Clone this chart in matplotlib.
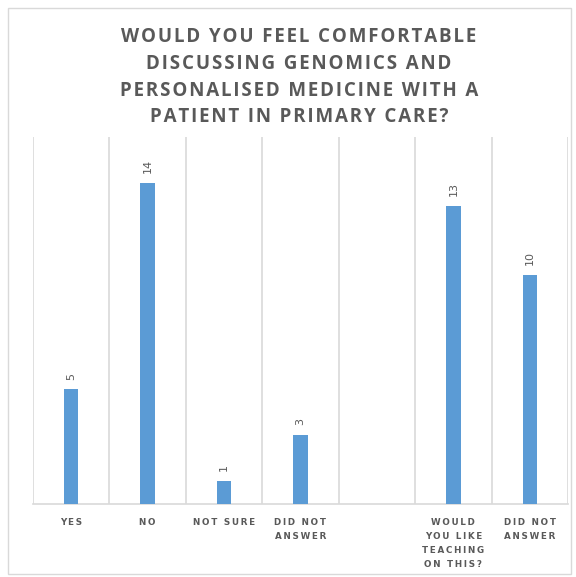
import matplotlib
matplotlib.use("Agg")
import matplotlib.pyplot as plt
from matplotlib.patches import Rectangle
import numpy as np

# Survey responses
categories = ["YES", "NO", "NOT SURE", "DID NOT\nANSWER", "",
              "WOULD\nYOU LIKE\nTEACHING\nON THIS?", "DID NOT\nANSWER"]
counts = [5, 14, 1, 3, None, 13, 10]
title = ("WOULD YOU FEEL COMFORTABLE\nDISCUSSING GENOMICS AND\n"
         "PERSONALISED MEDICINE WITH A\nPATIENT IN PRIMARY CARE?")

BAR = "#5B9BD5"
TEXT = "#595959"
GRID = "#D9D9D9"
THIN = "\u2009"
HAIR = "\u200a"


def spaced(s, sep=THIN):
    """Add tracking between letters of each line."""
    return "\n".join(sep.join(line) for line in s.split("\n"))


fig = plt.figure(figsize=(5.76, 5.77), dpi=100)
fig.patches.append(Rectangle((8 / 576, 3 / 577), 563 / 576, 566 / 577,
                             transform=fig.transFigure, fill=False,
                             edgecolor=GRID, linewidth=1.0))

ax = fig.add_axes([33 / 576, 73 / 577, 535 / 576, 367 / 577])

x = np.arange(len(categories))
for xi, v in zip(x, counts):
    if v is None:
        continue
    ax.bar(xi, v, width=0.19, color=BAR, zorder=3)
    ax.annotate(str(v), (xi, v), xytext=(0, 7), textcoords="offset points",
                rotation=90, ha="center", va="bottom", fontsize=8,
                color=TEXT, family=["DejaVu Sans"])

ax.set_xlim(-0.5, len(categories) - 0.5)
ax.set_ylim(0, 16)
ax.set_yticks([])
ax.set_xticks(x)
ax.set_xticklabels([spaced(c) for c in categories], fontsize=6.3,
                   color=TEXT, fontweight="bold", linespacing=1.7,
                   family=["DejaVu Sans"])
ax.tick_params(axis="x", length=0, pad=10)
ax.set_xticks(np.arange(-0.5, len(categories)), minor=True)
ax.tick_params(axis="x", which="minor", length=0)
ax.grid(axis="x", which="minor", color=GRID, linewidth=1.2, zorder=0)
ax.grid(axis="x", which="major", visible=False)
for side in ["top", "left", "right"]:
    ax.spines[side].set_visible(False)
ax.spines["bottom"].set_color(GRID)
ax.spines["bottom"].set_linewidth(1.2)

fig.text(299 / 576, 1 - 27 / 577, spaced(title, HAIR), ha="center",
         va="top", fontsize=13.5, fontweight="bold", color=TEXT,
         linespacing=1.45, family=["Open Sans", "DejaVu Sans"])

fig.savefig("out.png", dpi=100)
